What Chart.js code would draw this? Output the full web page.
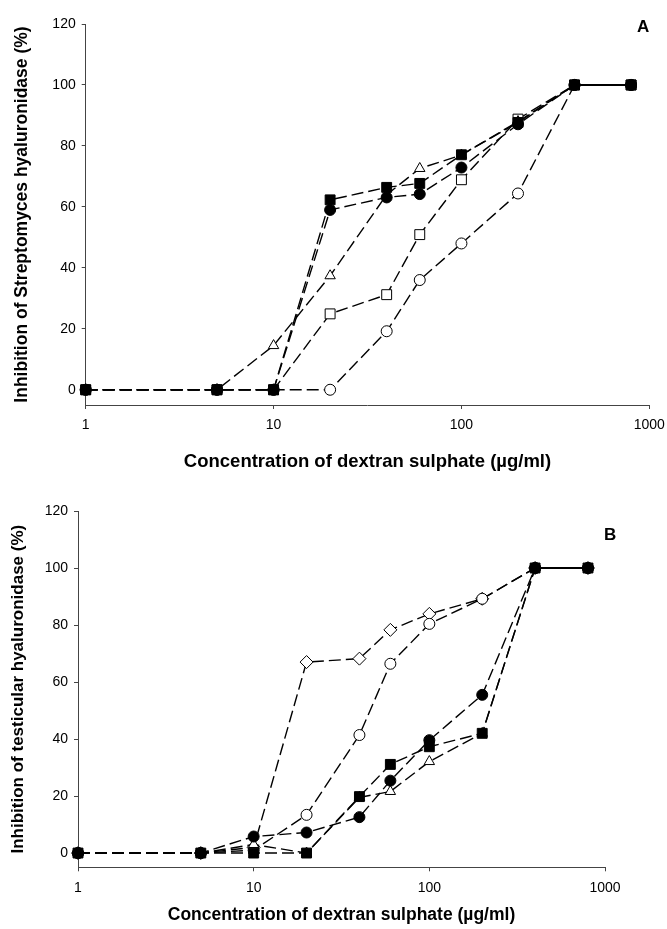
<!DOCTYPE html>
<html lang="en">
<head>
  <meta charset="UTF-8">
  <title>Inhibition of hyaluronidase by dextran sulphate</title>
  <script src="https://cdn.jsdelivr.net/npm/chart.js"></script>
  <style>
    body { margin: 0; background: #fff; width: 667px; height: 929px; position: relative; overflow: hidden; font-family: "Liberation Sans", Arial, sans-serif; }
    .box { position: absolute; left: 0; width: 667px; }
    #boxA { top: 0; height: 480px; }
    #boxB { top: 480px; height: 449px; }
    .panel { position: absolute; font-weight: bold; font-size: 17px; line-height: 1; }
  </style>
</head>
<body>
  <div class="box" id="boxA"><canvas id="chartA" width="667" height="480"></canvas></div>
  <div class="box" id="boxB"><canvas id="chartB" width="667" height="449"></canvas></div>
  <div class="panel" style="left:637px; top:18px;">A</div>
  <div class="panel" style="left:604px; top:526px;">B</div>

  <script>
    // concentrations (µg/ml) and axis ticks
    const concentrations = [1, 5, 10, 20, 40, 60, 100, 200, 400, 800];
    const xTicks = [1, 10, 100, 1000];
    const yTicks = [0, 20, 40, 60, 80, 100, 120];

    // Panel A - Streptomyces hyaluronidase (%)
    const aFilledCircle = [0, 0, 0, 59.0, 63.1, 64.2, 72.9, 87.1, 100, 100];
    const aFilledSquare = [0, 0, 0, 62.3, 66.4, 67.7, 77.1, 87.7, 100, 100];
    const aOpenTriangle = [0, 0, 14.5, 37.4, 64.0, 72.6, 77.0, 88.0, 100, 100];
    const aOpenSquare = [0, 0, 0, 24.9, 31.2, 50.9, 68.9, 88.8, 100, 100];
    const aOpenCircle = [0, 0, 0, 0, 19.2, 36.0, 48.0, 64.4, 100, 100];

    // Panel B - testicular hyaluronidase (%)
    const bFilledCircle = [0, 0, 5.8, 7.2, 12.6, 25.4, 39.6, 55.5, 100, 100];
    const bFilledSquare = [0, 0, 0, 0, 19.8, 31.1, 37.3, 42.0, 100, 100];
    const bOpenTriangle = [0, 0, 3.0, 0, 19.5, 21.6, 32.1, 42.0, 100, 100];
    const bOpenCircle = [0, 0, 1.0, 13.4, 41.4, 66.4, 80.4, 89.2, 100, 100];
    const bOpenDiamond = [0, 0, 2.0, 67.0, 68.2, 78.3, 83.9, 89.2, 100, 100];

    const FONT = "'Liberation Sans', Arial, sans-serif";
    const DASH = [12, 5];

    function series(label, values, style, filled, radius) {
      return {
        label: label,
        data: concentrations.map((c, i) => ({ x: c, y: values[i] })),
        borderColor: "#000",
        borderWidth: 1.4,
        borderDash: DASH,
        segment: {
          // last step (400 -> 800) is drawn solid
          borderDash: ctx => (ctx.p0.parsed.x >= 400 ? [] : DASH)
        },
        pointStyle: style,
        pointRadius: radius,
        pointBackgroundColor: filled ? "#000" : "#fff",
        pointBorderColor: "#000",
        pointBorderWidth: 1,
        fill: false,
        tension: 0,
        clip: false
      };
    }

    function makeOptions(cfg) {
      return {
        responsive: false,
        animation: false,
        layout: { padding: { top: cfg.top, right: cfg.right, left: 0, bottom: 0 } },
        plugins: { legend: { display: false }, tooltip: { enabled: false } },
        scales: {
          x: {
            type: "logarithmic",
            min: 1,
            max: 1000,
            afterBuildTicks: s => { s.ticks = xTicks.map(v => ({ value: v })); },
            afterFit: s => { s.height = cfg.xHeight; s.paddingLeft = 0; s.paddingRight = 0; },
            ticks: {
              callback: v => String(v),
              color: "#000",
              font: { family: FONT, size: cfg.tickSize },
              padding: cfg.xTickPad,
              maxRotation: 0,
              autoSkip: false
            },
            grid: { display: true, drawOnChartArea: false, drawTicks: true, tickLength: 4, color: "#444" },
            border: { display: true, color: "#444", width: 1 },
            title: {
              display: true,
              text: "Concentration of dextran sulphate (µg/ml)",
              color: "#000",
              font: { family: FONT, size: cfg.xTitleSize, weight: "bold" },
              padding: { top: 0, bottom: cfg.xTitlePad }
            }
          },
          y: {
            min: -5,
            max: 120,
            afterBuildTicks: s => { s.ticks = yTicks.map(v => ({ value: v })); },
            afterFit: s => { s.width = cfg.yWidth; s.paddingTop = 0; s.paddingBottom = 0; },
            ticks: {
              color: "#000",
              font: { family: FONT, size: cfg.tickSize },
              padding: 6
            },
            grid: { display: true, drawOnChartArea: false, drawTicks: true, tickLength: 4, color: "#444" },
            border: { display: true, color: "#444", width: 1 },
            title: {
              display: true,
              text: cfg.yTitle,
              color: "#000",
              font: { family: FONT, size: cfg.yTitleSize, weight: "bold" },
              padding: { top: cfg.yTitlePad, bottom: 0 }
            }
          }
        }
      };
    }

    new Chart(document.getElementById("chartA").getContext("2d"), {
      type: "line",
      data: {
        datasets: [
          series("filled circle", aFilledCircle, "circle", true, 5.5),
          series("filled square", aFilledSquare, "rect", true, 7),
          series("open triangle", aOpenTriangle, "triangle", false, 6),
          series("open square", aOpenSquare, "rect", false, 7),
          series("open circle", aOpenCircle, "circle", false, 5.5)
        ]
      },
      options: makeOptions({
        top: 24, right: 17.7, yWidth: 85.7, xHeight: 75,
        tickSize: 14, xTitleSize: 18.5, yTitleSize: 17.5,
        xTickPad: 8, xTitlePad: 6.9, yTitlePad: 12,
        yTitle: "Inhibition of Streptomyces hyaluronidase (%)"
      })
    });

    new Chart(document.getElementById("chartB").getContext("2d"), {
      type: "line",
      data: {
        datasets: [
          series("filled circle", bFilledCircle, "circle", true, 5.5),
          series("filled square", bFilledSquare, "rect", true, 7),
          series("open triangle", bOpenTriangle, "triangle", false, 6),
          series("open circle", bOpenCircle, "circle", false, 5.5),
          series("open diamond", bOpenDiamond, "rectRot", false, 6.5)
        ]
      },
      options: makeOptions({
        top: 31, right: 62, yWidth: 78, xHeight: 61.7,
        tickSize: 14, xTitleSize: 17.5, yTitleSize: 17,
        xTickPad: 8, xTitlePad: 3.8, yTitlePad: 8,
        yTitle: "Inhibition of testicular hyaluronidase (%)"
      })
    });
  </script>
</body>
</html>
